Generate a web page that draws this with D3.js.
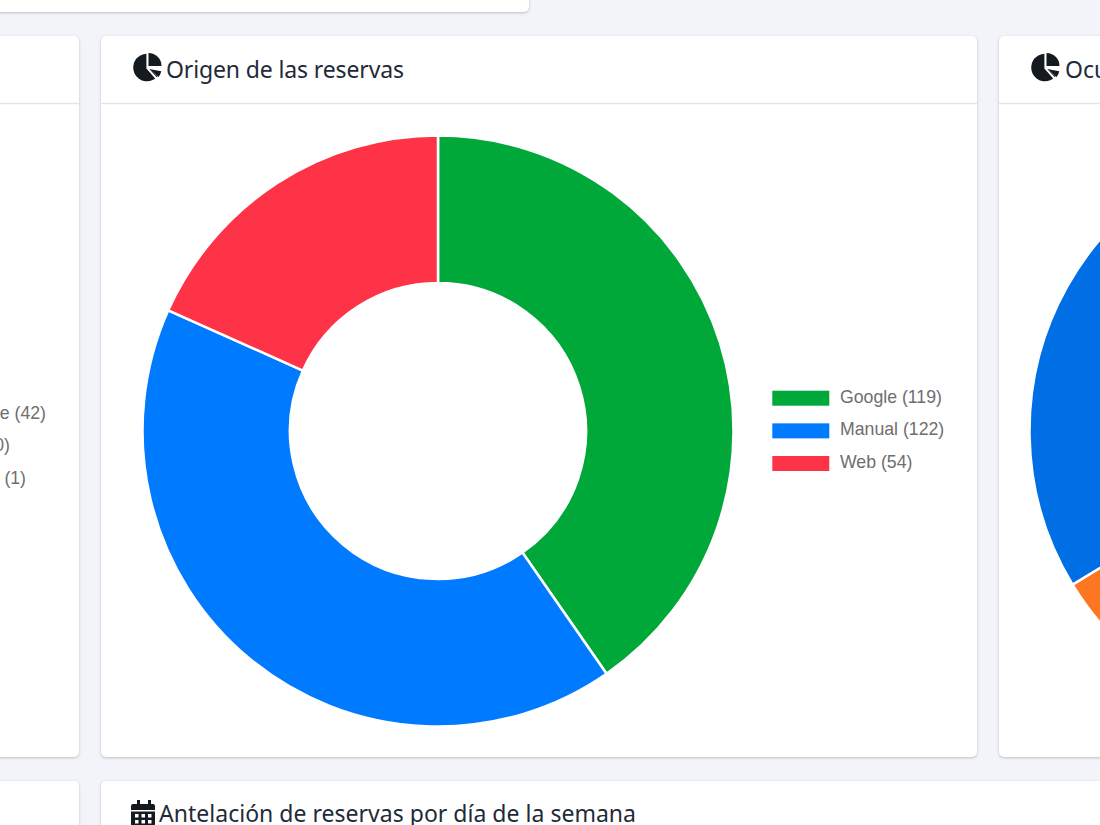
<!DOCTYPE html>
<html>
<head>
<meta charset="utf-8">
<script src="https://cdn.jsdelivr.net/npm/d3@7"></script>
<style>
html,body{margin:0;padding:0;background:#f3f4f9;overflow:hidden;width:1100px;height:825px}
.card{position:absolute;background:#fff;border-radius:5px;box-shadow:0 1px 3px rgba(0,0,0,.22)}
svg{position:absolute;left:0;top:0}
.title{font-family:"Noto Sans",sans-serif;font-size:23px;fill:#1f2b38}
.leg{font-family:"Liberation Sans",Arial,sans-serif;font-size:17.7px;fill:#6e6e6e}
</style>
</head>
<body>
<div class="card" style="left:-20px;top:-20px;width:549px;height:32px"></div>
<div class="card" style="left:-20px;top:36px;width:99px;height:721px"></div>
<div class="card" style="left:101px;top:36px;width:876px;height:721px"></div>
<div class="card" style="left:999px;top:36px;width:200px;height:721px"></div>
<div class="card" style="left:-20px;top:781px;width:99px;height:100px"></div>
<div class="card" style="left:101px;top:781px;width:1100px;height:100px"></div>
<script>
const categories = ['Google', 'Manual', 'Web'];
const reservas = [119, 122, 54];
const colores = ['#00a839', '#007bff', '#ff3347'];

// next card, only its left edge is on screen, values estimated
const ocupacion = [61, 5.3, 33.7];
const coloresOcupacion = ['#00a839', '#fd7722', '#006fe6'];

// cut off legend of the left card
const leftLegend = ['e (42)', '0)', '(1)'];

const w = 1100, h = 825, r = 295.5, rIn = 148;

const svg = d3.select('body').append('svg').attr('width', w).attr('height', h);

const pie = d3.pie().sort(null);
const arc = d3.arc().innerRadius(rIn).outerRadius(r);

const donut = svg.append('g').attr('transform', 'translate(438,431)');
donut.selectAll('path')
    .data(pie(reservas))
    .enter()
    .append('path')
    .attr('d', arc)
    .attr('fill', (d, i) => colores[i])
    .attr('stroke', '#fff')
    .attr('stroke-width', 2.5);

const donut2 = svg.append('g').attr('transform', 'translate(1325,431)');
donut2.selectAll('path')
    .data(pie(ocupacion))
    .enter()
    .append('path')
    .attr('d', arc)
    .attr('fill', (d, i) => coloresOcupacion[i])
    .attr('stroke', '#fff')
    .attr('stroke-width', 2.5);

const yLeg = d3.scalePoint().domain(d3.range(3)).range([398.2, 463.5]);

const legend = svg.append('g');
legend.selectAll('rect')
    .data(categories)
    .enter()
    .append('rect')
    .attr('x', 772.3)
    .attr('y', (d, i) => yLeg(i) - 7.5)
    .attr('width', 57)
    .attr('height', 15)
    .attr('fill', (d, i) => colores[i]);
legend.selectAll('text')
    .data(categories)
    .enter()
    .append('text')
    .attr('class', 'leg')
    .attr('x', 840)
    .attr('y', (d, i) => yLeg(i) + 4.5)
    .text((d, i) => `${d} (${reservas[i]})`);

const leftEnds = [46, 10, 26];
svg.append('g').selectAll('text')
    .data(leftLegend)
    .enter()
    .append('text')
    .attr('class', 'leg')
    .attr('text-anchor', 'end')
    .attr('x', (d, i) => leftEnds[i])
    .attr('y', (d, i) => yLeg(i) + 20.5)
    .text(d => d);

// header separators
[[0, 79], [101, 977], [999, 1100]].forEach(s => {
    svg.append('line')
        .attr('x1', s[0]).attr('x2', s[1])
        .attr('y1', 103.5).attr('y2', 103.5)
        .attr('stroke', '#e3e5ea').attr('stroke-width', 1.5);
});

// chart-pie icon
function pieIcon(x, y) {
    const g = svg.append('g').attr('transform', `translate(${x},${y})`).attr('fill', '#141a20');
    const a = d3.arc();
    g.append('path').attr('d', a({innerRadius: 0, outerRadius: 13.8, startAngle: Math.PI * 0.72, endAngle: Math.PI * 2}));
    g.append('path').attr('transform', 'translate(1.5,-1.5)')
        .attr('d', a({innerRadius: 0, outerRadius: 13, startAngle: 0, endAngle: Math.PI / 2}));
    g.append('path').attr('transform', 'translate(2,1.5)')
        .attr('d', a({innerRadius: 0, outerRadius: 12.5, startAngle: Math.PI * 0.56, endAngle: Math.PI * 0.72}));
    g.append('path').attr('fill', '#fff')
        .attr('d', 'M-0.6,-14V1L9,12L11,11L1.5,0.8H14V-0.8H0.6V-14Z');
}
pieIcon(147, 67.5);
pieIcon(1045, 67.5);

svg.append('text').attr('class', 'title').attr('x', 166).attr('y', 78)
    .attr('textLength', 238).text('Origen de las reservas');
svg.append('text').attr('class', 'title').attr('x', 1065).attr('y', 78).text('Ocupación');

// calendar icon
const cal = svg.append('g').attr('fill', '#141a20');
cal.append('rect').attr('x', 131).attr('y', 804).attr('width', 24).attr('height', 22).attr('rx', 2);
[137, 148].forEach(x => cal.append('rect').attr('x', x).attr('y', 800).attr('width', 3).attr('height', 6));
cal.append('rect').attr('x', 131).attr('y', 810).attr('width', 24).attr('height', 1.5).attr('fill', '#fff');
[135, 141.5, 148].forEach(x => [814, 820].forEach(y => {
    cal.append('rect').attr('x', x).attr('y', y).attr('width', 3.5).attr('height', 3.5).attr('fill', '#fff');
}));

svg.append('text').attr('class', 'title').attr('x', 159).attr('y', 822)
    .attr('textLength', 477).text('Antelación de reservas por día de la semana');
</script>
</body>
</html>
